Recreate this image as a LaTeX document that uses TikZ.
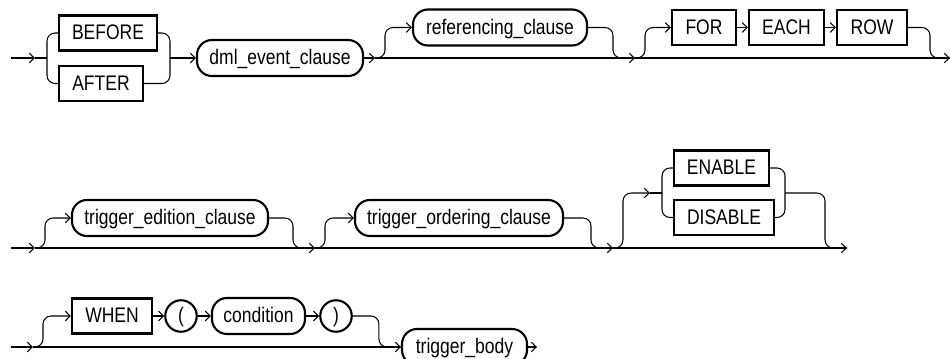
\documentclass[tikz,border=0pt]{standalone}
\usepackage{fontspec}
\setmainfont[FakeStretch=0.83]{Liberation Sans}
\usetikzlibrary{arrows.meta,calc}
\tikzset{
  kwbox/.style={draw, line width=1.2pt, minimum height=0.7cm, inner sep=0pt,
                text height=0.3cm, text depth=0.03cm},
  ntbox/.style={kwbox, rounded corners=0.3cm, minimum height=0.72cm},
  parcircle/.style={draw, circle, line width=1.2pt, minimum size=0.63cm, inner sep=0pt,
                text height=0.3cm, text depth=0.03cm},
  rail/.style={line width=0.6pt},
  arr/.style={rail, -{Straight Barb[length=2.8pt,width=5.5pt]}},
  railcurve/.style={rail, rounded corners=0.16cm},
}

\begin{document}
\begin{tikzpicture}[font=\fontsize{12}{14}\selectfont]
    \useasboundingbox (0,0) rectangle (19,-7.16);
    % first line
    \node[kwbox, minimum width=1.96cm] (before) at (2.16,-0.66) {BEFORE};
    \node[kwbox, minimum width=1.68cm] (after) at (2.02,-1.67) {AFTER};
    \node[ntbox, minimum width=3.32cm] (dml) at (5.6,-1.16) {dml\_event\_clause};
    \node[ntbox, minimum width=3.48cm] (ref) at (10.0,-0.55) {referencing\_clause};
    \node[kwbox, minimum width=1.28cm] (for) at (14.08,-0.55) {FOR};
    \node[kwbox, minimum width=1.5cm] (each) at (15.73,-0.55) {EACH};
    \node[kwbox, minimum width=1.4cm] (row) at (17.44,-0.55) {ROW};
    \coordinate (s1) at (0.22,-1.16); \coordinate (a1) at (0.7,-1.16); \coordinate (b1) at (0.94,-1.16);
    \coordinate (b2) at (3.4,-1.16); \coordinate (m1) at (7.5,-1.16); \coordinate (m2) at (12.7,-1.16);
    \coordinate (e1) at (19,-1.16);
    \draw[arr] (s1) -- (a1); \draw[rail] (a1) -- (b1);
    \draw[railcurve] (before.west) -| (b1) |- (after.west);
    \draw[railcurve] (before.east) -| (b2) |- (after.east);
    \draw[arr] (b2) -- (dml); \draw[arr] (dml) -- (m1);
    \draw[arr, railcurve] (m1) -- ++(0.2,0) |- (ref.west);
    \draw[arr] (m1) -- (m2);
    \draw[railcurve] (ref.east) -| ($(m2)+(-0.44,0)$) -- (m2);
    \draw[arr, railcurve] (m2) -- ++(0.2,0) |- (for.west);
    \draw[arr] (for) -- (each); \draw[arr] (each) -- (row);
    \draw[arr] (m2) -- (e1);
    \draw[railcurve] (row.east) -| ($(e1)+(-0.4,0)$) -- (e1);
    % second line
    \node[ntbox, minimum width=3.92cm] (edition) at (3.4,-4.36) {trigger\_edition\_clause};
    \node[ntbox, minimum width=4.16cm] (ordering) at (9.18,-4.36) {trigger\_ordering\_clause};
    \node[kwbox, minimum width=1.9cm] (enable) at (14.43,-3.36) {ENABLE};
    \node[kwbox, minimum width=2.0cm] (disable) at (14.48,-4.35) {DISABLE};
    \coordinate (s2) at (0.22,-4.96); \coordinate (n1) at (0.7,-4.96); \coordinate (n2) at (6.3,-4.96);
    \coordinate (n3) at (12.26,-4.96); \coordinate (n4) at (16.94,-4.96);
    \coordinate (k1) at (13.0,-3.86); \coordinate (k2) at (13.24,-3.86); \coordinate (k3) at (15.7,-3.86);
    \draw[arr] (s2) -- (n1);
    \draw[arr, railcurve] (n1) -- ++(0.2,0) |- (edition.west);
    \draw[arr] (n1) -- (n2);
    \draw[railcurve] (edition.east) -| ($(n2)+(-0.44,0)$) -- (n2);
    \draw[arr, railcurve] (n2) -- ++(0.2,0) |- (ordering.west);
    \draw[arr] (n2) -- (n3);
    \draw[railcurve] (ordering.east) -| ($(n3)+(-0.44,0)$) -- (n3);
    \draw[arr, railcurve] (n3) -- ++(0.2,0) |- (k1); \draw[rail] (k1) -- (k2);
    \draw[railcurve] (enable.west) -| (k2) |- (disable.west);
    \draw[railcurve] (enable.east) -| (k3) |- (disable.east);
    \draw[railcurve] (k3) -| ($(n4)+(-0.44,0)$) -- (n4);
    \draw[arr] (n3) -- (n4);
    % third line
    \node[kwbox, minimum width=1.6cm] (when) at (2.24,-6.32) {WHEN};
    \node[parcircle] (lpar) at (3.62,-6.32) {(};
    \node[ntbox, minimum width=1.86cm] (cond) at (5.17,-6.32) {condition};
    \node[parcircle] (rpar) at (6.72,-6.32) {)};
    \node[ntbox, minimum width=2.5cm] (body) at (9.29,-6.94) {trigger\_body};
    \coordinate (s3) at (0.22,-6.94); \coordinate (p1) at (0.66,-6.94); \coordinate (p3) at (10.74,-6.94);
    \draw[arr] (s3) -- (p1);
    \draw[arr, railcurve] (p1) -- ++(0.2,0) |- (when.west);
    \draw[arr] (when) -- (lpar); \draw[arr] (lpar) -- (cond); \draw[arr] (cond) -- (rpar);
    \draw[railcurve] (rpar.east) -| ($(body.west)+(-0.44,0)$) -- (body.west);
    \draw[arr] (p1) -- (body); \draw[arr] (body) -- (p3);
\end{tikzpicture}
\end{document}
